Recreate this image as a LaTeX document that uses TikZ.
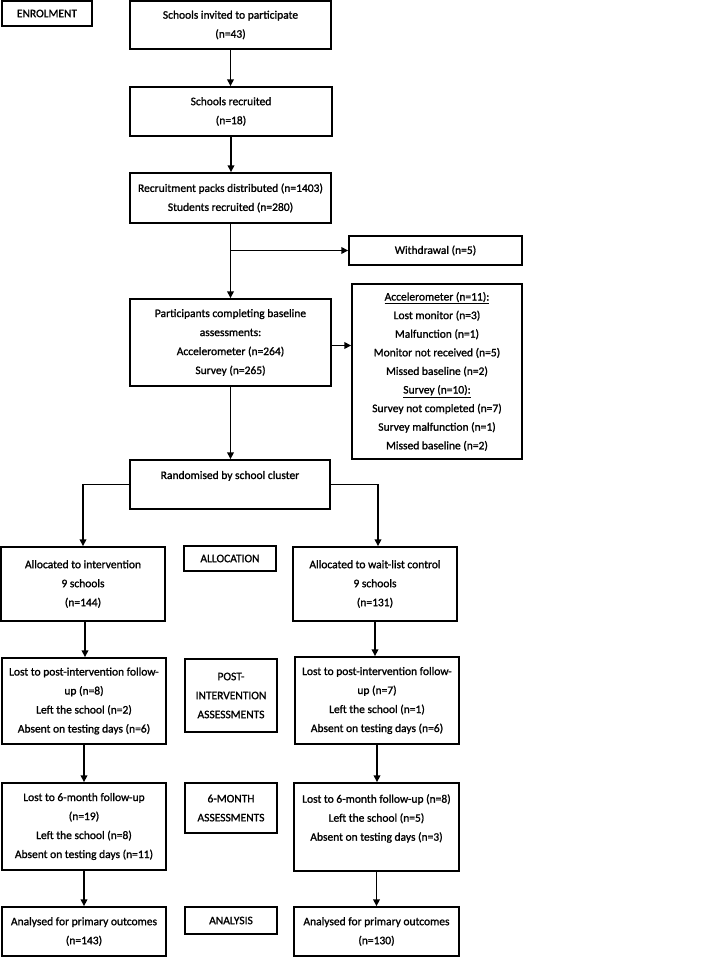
\documentclass[tikz,border=0pt]{standalone}
\usepackage{fontspec}
\setmainfont{Carlito}[FakeBold=1.2]
\usetikzlibrary{arrows.meta}
\tikzset{
  box/.style={draw=black, line width=1.4pt, rectangle, inner sep=0pt, align=center,
    font=\fontsize{11.5}{19}\selectfont},
  arr/.style={line width=1.7pt, -{Triangle[length=7pt,width=6.5pt]}},
}
\begin{document}
\begin{tikzpicture}[x=1pt,y=-1pt]
\useasboundingbox (0,0) rectangle (709,957);
\node[box, minimum width=90, minimum height=25] (enrol) at (47,13.5) {ENROLMENT};
\node[box, minimum width=201, minimum height=48] (invited) at (230.5,25) {Schools invited to participate\\(n=43)};
\node[box, minimum width=202, minimum height=49] (recruited) at (231,111.5) {Schools recruited\\(n=18)};
\node[box, minimum width=201, minimum height=50] (packs) at (230.5,198) {Recruitment packs distributed (n=1403)\\Students recruited (n=280)};
\node[box, minimum width=173, minimum height=29] (withdraw) at (435.5,250.5) {Withdrawal (n=5)};
\node[box, minimum width=201, minimum height=87] (baseline) at (230.5,342.5) {Participants completing baseline\\assessments:\\Accelerometer (n=264)\\Survey (n=265)};
\node[box, minimum width=170, minimum height=175, font=\fontsize{11.5}{18.6}\selectfont] (excl) at (437,371.5) {\underline{Accelerometer (n=11):}\\Lost monitor (n=3)\\Malfunction (n=1)\\Monitor not received (n=5)\\Missed baseline (n=2)\\\underline{Survey (n=10):}\\Survey not completed (n=7)\\Survey malfunction (n=1)\\Missed baseline (n=2)};
\node[box, minimum width=200, minimum height=49] (random) at (230,484.5) {Randomised by school cluster\\\mbox{}};
\node[box, minimum width=164, minimum height=74] (allocI) at (83,584) {Allocated to intervention\\9 schools\\(n=144)};
\node[box, minimum width=92, minimum height=25] (allocLab) at (230,558.5) {ALLOCATION};
\node[box, minimum width=164, minimum height=74] (allocC) at (375,584) {Allocated to wait-list control\\9 schools\\(n=131)};
\node[box, minimum width=164, minimum height=86] (postI) at (84,701) {Lost to post-intervention follow-\\up (n=8)\\Left the school (n=2)\\Absent on testing days (n=6)};
\node[box, minimum width=92, minimum height=73] (postLab) at (231,695.5) {POST-\\INTERVENTION\\ASSESSMENTS};
\node[box, minimum width=164, minimum height=87] (postC) at (377,700.5) {Lost to post-intervention follow-\\up (n=7)\\Left the school (n=1)\\Absent on testing days (n=6)};
\node[box, minimum width=164, minimum height=87] (sixI) at (84,826.5) {Lost to 6-month follow-up\\(n=19)\\Left the school (n=8)\\Absent on testing days (n=11)};
\node[box, minimum width=92, minimum height=50] (sixLab) at (231,808) {6-MONTH\\ASSESSMENTS};
\node[box, minimum width=165, minimum height=88] (sixC) at (376.5,827) {Lost to 6-month follow-up (n=8)\\Left the school (n=5)\\Absent on testing days (n=3)\\\mbox{}};
\node[box, minimum width=164, minimum height=49] (anaI) at (84,931.5) {Analysed for primary outcomes\\(n=143)};
\node[box, minimum width=92, minimum height=27] (anaLab) at (231,920.5) {ANALYSIS};
\node[box, minimum width=165, minimum height=49] (anaC) at (376.5,931.5) {Analysed for primary outcomes\\(n=130)};

\draw[arr] (invited.south) -- (invited.south |- recruited.north);
\draw[arr] (recruited.south) -- (recruited.south |- packs.north);
\draw[arr] (packs.south) -- (packs.south |- baseline.north);
\draw[arr] (packs.south |- withdraw.west) -- (withdraw.west);
\draw[arr] ([yshift=-3pt]baseline.east) -- ([yshift=-3pt]baseline.east -| excl.west);
\draw[arr] (baseline.south) -- (baseline.south |- random.north);
\draw[arr] (random.west) -| (allocI.north);
\draw[arr] (random.east) -| ([xshift=3pt]allocC.north);
\draw[arr] ([xshift=2pt]allocI.south) -- ([xshift=2pt]allocI.south |- postI.north);
\draw[arr] (allocC.south) -- (allocC.south |- postC.north);
\draw[arr] (postI.south) -- (postI.south |- sixI.north);
\draw[arr] (postC.south) -- (postC.south |- sixC.north);
\draw[arr] (sixI.south) -- (sixI.south |- anaI.north);
\draw[arr] (sixC.south) -- (sixC.south |- anaC.north);
\end{tikzpicture}
\end{document}
